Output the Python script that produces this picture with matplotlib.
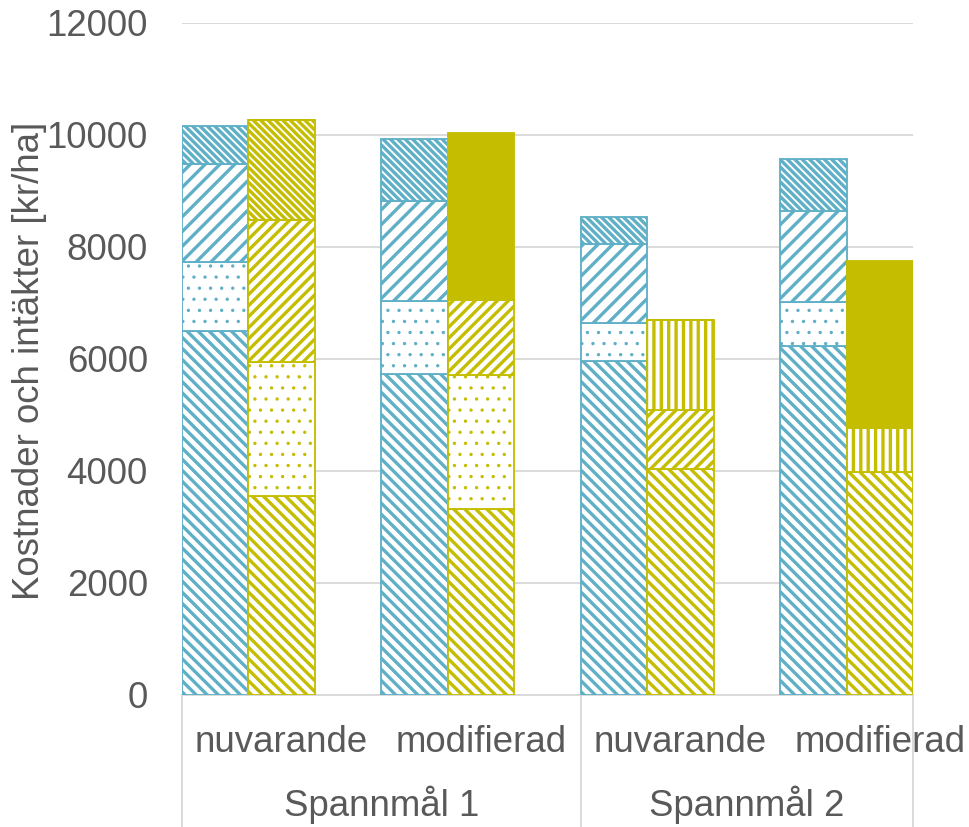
import matplotlib
matplotlib.use("Agg")
import matplotlib.pyplot as plt
import numpy as np

plt.rcParams['font.family'] = ['Liberation Sans', 'DejaVu Sans']
plt.rcParams['hatch.linewidth'] = 1.8

# ---- data ----
categories = ["nuvarande", "modifierad", "nuvarande", "modifierad"]
groups = ["Spannmål 1", "Spannmål 2"]

# cost bars (blue), segments bottom -> top
blue_l1 = [6500, 5740, 5970, 6240]   # "\\"
blue_l2 = [1240, 1290, 680, 770]     # dots
blue_l3 = [1740, 1790, 1400, 1630]   # "//"
blue_l4 = [680, 1110, 480, 930]      # dense "\\"

# revenue bars (olive), segments bottom -> top
olive_a = [3550, 3320, 4030, 3980]   # "\\"
olive_b = [2400, 2400, 0, 0]         # dots
olive_c = [2530, 1340, 1060, 0]      # "//"
olive_d = [1790, 0, 0, 0]            # dense "\\"
olive_e = [0, 0, 1610, 790]          # vertical lines
olive_f = [0, 2980, 0, 2980]         # solid

yticks = [0, 2000, 4000, 6000, 8000, 10000, 12000]

BLUE = '#5FAFC7'
OLIVE = '#C4BD00'
TXT = '#595959'
GRID = '#D9D9D9'
FS = 19.8

fig = plt.figure(figsize=(969/133, 827/133), dpi=133)
ax = fig.add_axes([182/969, 1-695/827, (913-182)/969, (695-23)/827])

x = np.arange(len(categories))
w = 1/3

def stack(xpos, layers, color, hatches):
    bottom = np.zeros(len(categories))
    for vals, h in zip(layers, hatches):
        vals = np.array(vals, dtype=float)
        if h == 'solid':
            ax.bar(xpos, vals, w, bottom=bottom, align='edge', color=color,
                   edgecolor=color, linewidth=1.0, zorder=3)
        else:
            bars = ax.bar(xpos, vals, w, bottom=bottom, align='edge', facecolor='white',
                          edgecolor=color, hatch=h, linewidth=1.0, zorder=3)
            if '.' in h:
                for b in bars:
                    try:
                        b.set_hatch_linewidth(0.6)
                    except Exception:
                        pass
        bottom += vals

stack(x - w, [blue_l1, blue_l2, blue_l3, blue_l4], BLUE,
      ['\\\\\\\\', '..', '///', '\\\\\\\\\\\\'])
stack(x, [olive_a, olive_b, olive_c, olive_d, olive_e, olive_f], OLIVE,
      ['\\\\\\\\', '..', '////', '\\\\\\\\\\\\', '|||', 'solid'])

ax.set_xlim(-1/3, len(categories) - 1 + 1/3)
ax.set_ylim(0, 12000)
ax.set_yticks(yticks)
ax.set_yticklabels([str(t) for t in yticks], fontsize=FS, color=TXT)
ax.tick_params(axis='y', length=0, pad=18.5)
ax.set_xticks([])
ax.grid(axis='y', color=GRID, linewidth=1.0, zorder=0)
ax.set_axisbelow(True)
for s in ['left', 'right', 'top']:
    ax.spines[s].set_visible(False)
ax.spines['bottom'].set_color(GRID)
ax.spines['bottom'].set_linewidth(1.0)

trans = matplotlib.transforms.blended_transform_factory(ax.transData, fig.transFigure)
for i, c in enumerate(categories):
    ax.text(i + 1/6, 1 - 742/827, c, transform=trans, ha='center', va='center',
            fontsize=FS, color=TXT, clip_on=False)
group_centers = [2/3, 2.5]
for gc, g in zip(group_centers, groups):
    ax.text(gc, 1 - 805/827, g, transform=trans, ha='center', va='center',
            fontsize=FS, color=TXT, clip_on=False)
for sx in [-1/3, 1 + 2/3, 3 + 1/3]:
    ax.plot([sx, sx], [1 - 695/827, 0], transform=trans, color=GRID,
            linewidth=1.0, clip_on=False)

fig.text(30/969, 1 - 361/827, "Kostnader och intäkter [kr/ha]", rotation=90,
         ha='center', va='center', fontsize=FS, color=TXT)

fig.savefig("out.png", dpi=133)
